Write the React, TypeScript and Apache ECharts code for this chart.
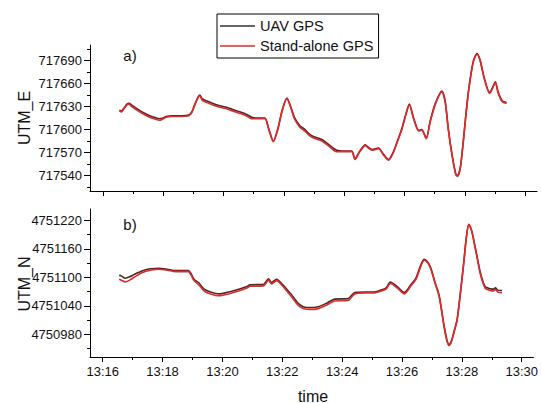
import React, { useEffect, useRef } from "react";
import * as echarts from "echarts";

// ---- data (time in minutes after 13:00) ----
const topTime = [
  16.55, 16.62, 16.70, 16.80, 16.87, 16.95, 17.10, 17.30, 17.50, 17.70,
  17.88, 18.00, 18.10, 18.30, 18.60, 18.85, 18.95, 19.05, 19.15, 19.21,
  19.30, 19.45, 19.65, 19.88, 20.10, 20.30, 20.54, 20.75, 20.93, 21.10,
  21.37, 21.50, 21.65, 21.80, 21.95, 22.10, 22.20, 22.35, 22.53, 22.70,
  22.85, 22.98, 23.26, 23.50, 23.75, 24.00, 24.25, 24.36, 24.50, 24.70,
  24.80, 24.92, 25.14, 25.30, 25.47, 25.63, 25.80, 25.91, 26.05, 26.16,
  26.30, 26.47, 26.57, 26.72, 26.85, 27.02, 27.24, 27.35, 27.45, 27.58,
  27.70, 27.76, 27.85, 27.95, 28.05, 28.15, 28.28, 28.40, 28.50, 28.65,
  28.82, 28.92, 29.01, 29.10, 29.24, 29.38,
];
const topUav = [
  717625, 717624, 717628, 717633, 717634, 717632, 717628, 717623, 717619, 717616,
  717614, 717615, 717617, 717618, 717618, 717619, 717623, 717633, 717642, 717645,
  717640, 717637, 717634, 717631, 717629, 717626, 717623, 717620, 717616, 717615,
  717615, 717601, 717585, 717601, 717626, 717641, 717633, 717616, 717605, 717600,
  717594, 717591, 717587, 717580, 717573, 717572, 717572, 717562, 717571, 717580,
  717577, 717574, 717576, 717568, 717561, 717571, 717589, 717601, 717621, 717633,
  717615, 717599, 717600, 717589, 717611, 717634, 717650, 717636, 717601, 717566,
  717542, 717540, 717551, 717586, 717626, 717659, 717689, 717699, 717691, 717666,
  717648, 717655, 717662, 717649, 717637, 717635,
];
const topStandalone = [
  717624, 717623, 717627, 717632, 717633, 717630, 717626, 717621, 717617, 717614,
  717612, 717614, 717616, 717617, 717617, 717618, 717622, 717632, 717641, 717644,
  717638, 717635, 717632, 717629, 717627, 717624, 717621, 717618, 717614, 717614,
  717614, 717600, 717584, 717600, 717625, 717640, 717632, 717614, 717603, 717598,
  717592, 717589, 717585, 717578, 717571, 717571, 717571, 717561, 717570, 717579,
  717576, 717573, 717575, 717567, 717560, 717570, 717588, 717600, 717620, 717632,
  717614, 717598, 717599, 717588, 717610, 717633, 717649, 717635, 717600, 717565,
  717541, 717539, 717550, 717585, 717625, 717658, 717688, 717698, 717690, 717665,
  717647, 717654, 717661, 717648, 717636, 717634,
];

const bottomTime = [
  16.55, 16.62, 16.75, 16.90, 17.05, 17.33, 17.60, 17.88, 18.15, 18.44,
  18.86, 18.95, 19.05, 19.20, 19.39, 19.60, 19.88, 20.20, 20.54, 20.80,
  20.93, 21.37, 21.54, 21.64, 21.81, 21.95, 22.15, 22.31, 22.53, 22.70,
  22.92, 23.20, 23.50, 23.75, 24.20, 24.42, 24.80, 25.08, 25.30, 25.47,
  25.61, 25.85, 26.08, 26.30, 26.47, 26.62, 26.74, 26.85, 26.96, 27.10,
  27.24, 27.40, 27.50, 27.57, 27.65, 27.73, 27.84, 27.95, 28.07, 28.15,
  28.23, 28.32, 28.40, 28.52, 28.62, 28.78, 28.95, 29.06, 29.12, 29.20, 29.34,
];
const bottomUav = [
  4751104, 4751103, 4751098, 4751101, 4751106, 4751114, 4751118, 4751119, 4751117, 4751114,
  4751114, 4751108, 4751096, 4751089, 4751075, 4751069, 4751065, 4751069, 4751075, 4751080,
  4751084, 4751085, 4751097, 4751089, 4751096, 4751089, 4751075, 4751063, 4751045, 4751038,
  4751036, 4751038, 4751046, 4751054, 4751055, 4751068, 4751069, 4751069, 4751073, 4751078,
  4751090, 4751080, 4751068, 4751085, 4751099, 4751125, 4751138, 4751133, 4751120, 4751090,
  4751062, 4751000, 4750968, 4750958, 4750966, 4750984, 4751011, 4751067, 4751136, 4751185,
  4751212, 4751200, 4751178, 4751140, 4751109, 4751080, 4751076, 4751075, 4751078, 4751073, 4751072,
];
const bottomStandalone = [
  4751096, 4751094, 4751090, 4751094, 4751100, 4751110, 4751115, 4751117, 4751115, 4751112,
  4751112, 4751105, 4751093, 4751085, 4751071, 4751065, 4751061, 4751065, 4751071, 4751077,
  4751081, 4751082, 4751094, 4751086, 4751093, 4751086, 4751071, 4751059, 4751041, 4751034,
  4751032, 4751034, 4751042, 4751050, 4751051, 4751065, 4751067, 4751067, 4751071, 4751075,
  4751087, 4751077, 4751065, 4751082, 4751096, 4751122, 4751136, 4751131, 4751118, 4751088,
  4751060, 4750998, 4750966, 4750956, 4750964, 4750982, 4751009, 4751065, 4751134, 4751183,
  4751211, 4751199, 4751176, 4751138, 4751106, 4751077, 4751072, 4751071, 4751074, 4751069, 4751067,
];

const xMajorTicks = [16, 18, 20, 22, 24, 26, 28, 30];
const xMinorTicks = [17, 19, 21, 23, 25, 27, 29];
const topMajorTicks = [717540, 717570, 717600, 717630, 717660, 717690];
const topMinorTicks = [717525, 717555, 717585, 717615, 717645, 717675, 717705];
const bottomMajorTicks = [4750980, 4751040, 4751100, 4751160, 4751220];
const bottomMinorTicks = [4750950, 4751010, 4751070, 4751130, 4751190];

const FONT = "Arial, 'Liberation Sans', sans-serif";
const AXIS = "#000";
const TEXT = "#111";

const xFormat = (v: number) => "13:" + String(Math.round(v)).padStart(2, "0");
const yFormat = (v: number) => String(Math.round(v));

export default function App() {
  const ref = useRef<HTMLDivElement>(null);
  useEffect(() => {
    if (!ref.current) return;
    const chart = echarts.init(ref.current, null, { renderer: "svg" });

    const X_MIN = 15.575;
    const X_MAX = 30.39;

    const xBase = (grid: number, labels: boolean) => ({
      type: "value",
      gridIndex: grid,
      min: X_MIN,
      max: X_MAX,
      position: "bottom",
      splitLine: { show: false },
      axisLine: { show: true, onZero: false, lineStyle: { color: AXIS, width: 1 } },
      axisTick: { show: true, length: 5, customValues: xMajorTicks, lineStyle: { color: AXIS } },
      axisLabel: {
        show: labels,
        customValues: xMajorTicks,
        formatter: xFormat,
        color: TEXT,
        fontFamily: FONT,
        fontSize: 13,
        margin: 8,
      },
    });
    const xMinor = (grid: number) => ({
      type: "value",
      gridIndex: grid,
      min: X_MIN,
      max: X_MAX,
      position: "bottom",
      splitLine: { show: false },
      axisLine: { show: false, onZero: false },
      axisTick: { show: true, length: 3, customValues: xMinorTicks, lineStyle: { color: AXIS } },
      axisLabel: { show: false },
    });
    const yBase = (grid: number, min: number, max: number, ticks: number[]) => ({
      type: "value",
      gridIndex: grid,
      min,
      max,
      position: "left",
      splitLine: { show: false },
      axisLine: { show: true, onZero: false, lineStyle: { color: AXIS, width: 1 } },
      axisTick: { show: true, length: 6, customValues: ticks, lineStyle: { color: AXIS } },
      axisLabel: {
        show: true,
        customValues: ticks,
        formatter: yFormat,
        color: TEXT,
        fontFamily: FONT,
        fontSize: 13,
        margin: 8,
      },
    });
    const yMinor = (grid: number, min: number, max: number, ticks: number[]) => ({
      type: "value",
      gridIndex: grid,
      min,
      max,
      position: "left",
      splitLine: { show: false },
      axisLine: { show: false, onZero: false },
      axisTick: { show: true, length: 3, customValues: ticks, lineStyle: { color: AXIS } },
      axisLabel: { show: false },
    });

    const lineSeries = (
      name: string,
      xi: number,
      yi: number,
      t: number[],
      v: number[],
      color: string
    ) => ({
      name,
      type: "line",
      xAxisIndex: xi,
      yAxisIndex: yi,
      data: t.map((tt, i) => [tt, v[i]]),
      showSymbol: false,
      symbol: "none",
      smooth: 0.25,
      lineStyle: { color, width: 1.6 },
      itemStyle: { color },
    });

    const BLACK = "#333333";
    const RED = "#f02424";

    chart.setOption({
      animation: false,
      backgroundColor: "#fff",
      grid: [
        { left: 90, right: 4, top: 45, height: 146 },
        { left: 90, right: 4, top: 209, height: 148 },
      ],
      xAxis: [xBase(0, false), xBase(1, true), xMinor(0), xMinor(1)],
      yAxis: [
        yBase(0, 717520, 717710, topMajorTicks),
        yBase(1, 4750932, 4751244, bottomMajorTicks),
        yMinor(0, 717520, 717710, topMinorTicks),
        yMinor(1, 4750932, 4751244, bottomMinorTicks),
      ],
      legend: {
        show: true,
        orient: "vertical",
        left: 217,
        top: 14,
        padding: [4, 5, 4, 3],
        itemGap: 4,
        itemWidth: 35,
        itemHeight: 1.6,
        icon: "rect",
        backgroundColor: "#fff",
        borderColor: "#000",
        borderWidth: 1,
        borderRadius: 0,
        data: ["UAV GPS", "Stand-alone GPS"],
        textStyle: { fontFamily: FONT, fontSize: 14.6, color: TEXT, lineHeight: 16 },
      },
      graphic: [
        {
          type: "text",
          x: 130,
          y: 55,
          style: { text: "a)", font: `15px ${FONT}`, fill: TEXT, align: "center", verticalAlign: "middle" },
        },
        {
          type: "text",
          x: 130,
          y: 224,
          style: { text: "b)", font: `15px ${FONT}`, fill: TEXT, align: "center", verticalAlign: "middle" },
        },
        {
          type: "text",
          x: 24,
          y: 118,
          rotation: Math.PI / 2,
          style: { text: "UTM_E", font: `16px ${FONT}`, fill: TEXT, align: "center", verticalAlign: "middle" },
        },
        {
          type: "text",
          x: 24,
          y: 284,
          rotation: Math.PI / 2,
          style: { text: "UTM_N", font: `16px ${FONT}`, fill: TEXT, align: "center", verticalAlign: "middle" },
        },
        {
          type: "text",
          x: 313,
          y: 396,
          style: { text: "time", font: `16px ${FONT}`, fill: TEXT, align: "center", verticalAlign: "middle" },
        },
      ],
      series: [
        lineSeries("UAV GPS", 0, 0, topTime, topUav, BLACK),
        lineSeries("Stand-alone GPS", 0, 0, topTime, topStandalone, RED),
        lineSeries("UAV GPS", 1, 1, bottomTime, bottomUav, BLACK),
        lineSeries("Stand-alone GPS", 1, 1, bottomTime, bottomStandalone, RED),
      ],
    });
    return () => chart.dispose();
  }, []);

  return (
    <div
      ref={ref}
      style={{ position: "fixed", left: 0, top: 0, width: 541, height: 403, background: "#fff" }}
    />
  );
}
